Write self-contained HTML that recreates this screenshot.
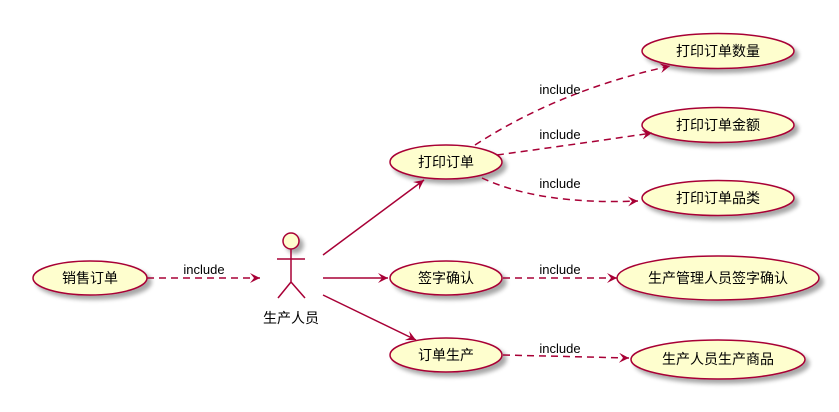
<!DOCTYPE html>
<html><head><meta charset="utf-8"><style>
html,body{margin:0;padding:0;background:#fff;width:839px;height:412px;overflow:hidden}
text{font-family:"Liberation Sans","Noto Sans CJK SC",sans-serif;font-size:14px;fill:#000}
.t{font-size:13px}
</style></head><body>
<svg width="839" height="412" xmlns="http://www.w3.org/2000/svg">
<defs>
<filter id="sh" x="-20%" y="-20%" width="150%" height="160%"><feGaussianBlur in="SourceAlpha" stdDeviation="2"/><feOffset dx="4" dy="4"/><feComponentTransfer><feFuncA type="linear" slope="0.35"/></feComponentTransfer><feMerge><feMergeNode/><feMergeNode in="SourceGraphic"/></feMerge></filter>
<marker id="a" markerWidth="12" markerHeight="10" refX="10" refY="5" orient="auto" markerUnits="userSpaceOnUse"><path d="M0,0 L10,5 L0,10 L4,5 Z" fill="#A80036"/></marker>
</defs>
<g fill="#FEFECE" stroke="#A80036" stroke-width="1.5" filter="url(#sh)">
<ellipse cx="718" cy="51" rx="76" ry="17.5"/>
<ellipse cx="718" cy="125" rx="76" ry="17.5"/>
<ellipse cx="718" cy="198" rx="76" ry="17.5"/>
<ellipse cx="718" cy="278" rx="101" ry="22"/>
<ellipse cx="718" cy="359.5" rx="87" ry="19.5"/>
<ellipse cx="446" cy="162" rx="56" ry="17"/>
<ellipse cx="446" cy="278" rx="56" ry="17"/>
<ellipse cx="446" cy="355" rx="56" ry="17"/>
<ellipse cx="90" cy="278" rx="57" ry="17"/>
<circle cx="291" cy="241" r="8"/>
</g>
<g stroke="#A80036" stroke-width="1.5" fill="none">
<path d="M291,249 V282 M277,259 H305 M291,282 L278,298 M291,282 L305,298"/>
<path d="M323,255 L424,180" marker-end="url(#a)"/>
<path d="M323,278 L388,278" marker-end="url(#a)"/>
<path d="M323,295 L416,340" marker-end="url(#a)"/>
<g stroke-dasharray="7,5">
<path d="M147,278 L260,278" marker-end="url(#a)"/>
<path d="M475,145 Q560,90 670,66" marker-end="url(#a)"/>
<path d="M497,155 Q570,145 652,133" marker-end="url(#a)"/>
<path d="M482,178 Q540,205 638,201" marker-end="url(#a)"/>
<path d="M503,278 L617,278" marker-end="url(#a)"/>
<path d="M503,355 L629,358" marker-end="url(#a)"/>
</g>
</g>
<g text-anchor="middle">
<text x="718" y="56">打印订单数量</text>
<text x="718" y="130">打印订单金额</text>
<text x="718" y="203">打印订单品类</text>
<text x="718" y="283">生产管理人员签字确认</text>
<text x="718" y="364">生产人员生产商品</text>
<text x="446" y="167">打印订单</text>
<text x="446" y="283">签字确认</text>
<text x="446" y="360">订单生产</text>
<text x="90" y="283">销售订单</text>
<text x="291" y="323">生产人员</text>
<text class="t" x="204" y="274">include</text>
<text class="t" x="560" y="94">include</text>
<text class="t" x="560" y="139">include</text>
<text class="t" x="560" y="188">include</text>
<text class="t" x="560" y="274">include</text>
<text class="t" x="560" y="353">include</text>
</g>
</svg>
</body></html>
